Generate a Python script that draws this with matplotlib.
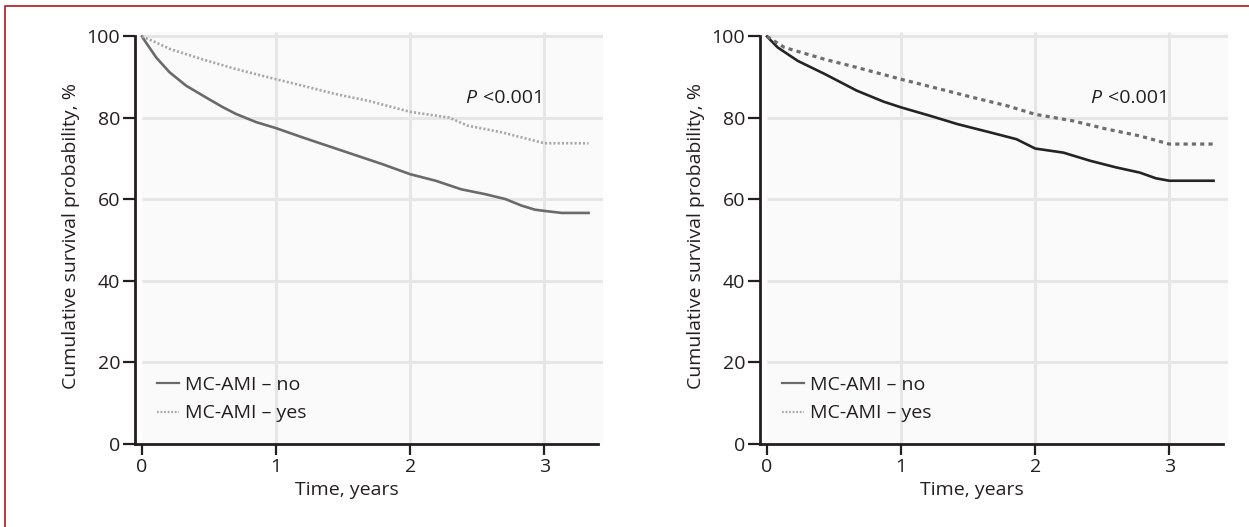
import matplotlib
matplotlib.use("Agg")
import matplotlib.pyplot as plt
import matplotlib.transforms as mtransforms
from matplotlib.lines import Line2D
from matplotlib.patches import Rectangle

plt.rcParams['font.family'] = ['Open Sans', 'DejaVu Sans']

# Kaplan-Meier survival (%) read at selected times (years)
left_no_t = [0, 0.03, 0.107, 0.206, 0.33, 0.50, 0.60, 0.70, 0.85, 1.0, 1.2, 1.49,
             1.79, 2.0, 2.19, 2.38, 2.56, 2.71, 2.83, 2.93, 3.0, 3.13, 3.33]
left_no_s = [100, 98.5, 94.8, 91.2, 87.9, 84.6, 82.7, 81.0, 79.0, 77.5, 75.2, 72.0,
             68.7, 66.2, 64.6, 62.5, 61.3, 60.1, 58.5, 57.5, 57.2, 56.7, 56.7]
left_yes_t = [0, 0.08, 0.21, 0.45, 0.70, 1.0, 1.2, 1.44, 1.69, 2.0, 2.29, 2.43,
              2.68, 2.93, 3.0, 3.33]
left_yes_s = [100, 98.9, 96.9, 94.4, 92.0, 89.5, 87.9, 85.9, 84.2, 81.5, 80.1, 78.1,
              76.5, 74.4, 73.8, 73.8]

right_no_t = [0, 0.08, 0.23, 0.43, 0.67, 0.87, 1.0, 1.22, 1.42, 1.66, 1.86, 2.0,
              2.21, 2.41, 2.6, 2.78, 2.90, 3.0, 3.33]
right_no_s = [100, 97.3, 94.0, 90.8, 86.7, 84.0, 82.6, 80.5, 78.5, 76.5, 74.8, 72.5,
              71.5, 69.5, 67.9, 66.6, 65.2, 64.6, 64.6]
right_yes_t = [0, 0.13, 0.43, 0.67, 1.0, 1.29, 1.54, 1.79, 2.0, 2.28, 2.53, 2.78,
               3.0, 3.33]
right_yes_s = [100, 97.3, 94.4, 92.4, 89.5, 87.1, 85.0, 83.0, 80.9, 79.3, 77.3, 75.6,
               73.6, 73.6]

labels = ['MC-AMI \u2013 no', 'MC-AMI \u2013 yes']
yticks = [0, 20, 40, 60, 80, 100]
xticks = [0, 1, 2, 3]
p_text = '<0.001'

ink = '#231f20'
fs = 14

fig = plt.figure(figsize=(12.49, 5.27), dpi=100)
W, H = 1249, 527
ax_left = fig.add_axes([135.3 / W, 83 / H, 468 / W, 411.6 / H])
ax_right = fig.add_axes([760.3 / W, 83 / H, 468 / W, 411.6 / H])

panels = [
    (ax_left, (left_no_t, left_no_s), (left_yes_t, left_yes_s),
     dict(color='#6a6a6a', lw=1.9), dict(color='#a8a8a8', lw=1.9, ls=(0, (0.8, 0.8))),
     ['#6a6a6a', '#a8a8a8']),
    (ax_right, (right_no_t, right_no_s), (right_yes_t, right_yes_s),
     dict(color='#262324', lw=1.9), dict(color='#6e6e6e', lw=2.3, ls=(0, (1.3, 1.3))),
     ['#6a6a6a', '#a8a8a8']),
]

for ax, no, yes, no_style, yes_style, leg_colors in panels:
    ax.set_xlim(-0.05, 3.44)
    ax.set_ylim(0, 101)
    ax.set_facecolor('white')

    # shaded plot region and grid
    ax.add_patch(Rectangle((0, 0), 3.44, 101, color='#fafafa', lw=0, zorder=0))
    ax.hlines(yticks[1:], 0, 3.44, color='#e6e6e6', lw=2.2, zorder=1)
    ax.vlines(xticks[1:], 0, 101, color='#e6e6e6', lw=2.2, zorder=1)

    ax.plot(no[0], no[1], zorder=3, solid_joinstyle='round', **no_style)
    ax.plot(yes[0], yes[1], zorder=3, **yes_style)

    for side in ['top', 'right']:
        ax.spines[side].set_visible(False)
    for side in ['left', 'bottom']:
        ax.spines[side].set_color(ink)
        ax.spines[side].set_linewidth(2.0)
    ax.spines['left'].set_bounds(0, 100)
    ax.spines['bottom'].set_bounds(-0.05, 3.4)

    ax.set_xticks(xticks)
    ax.set_yticks(yticks)
    ax.tick_params(axis='y', direction='out', length=9, width=1.6, color=ink,
                   labelsize=fs, labelcolor=ink, pad=2)
    ax.tick_params(axis='x', direction='out', length=8, width=1.6, color=ink,
                   labelsize=fs, labelcolor=ink, pad=2)

    ax.set_xlabel('Time, years', fontsize=fs, color=ink)
    ax.xaxis.set_label_coords(1.53, -0.09,
                              transform=mtransforms.blended_transform_factory(ax.transData, ax.transAxes))
    ax.xaxis.label.set_va('top')
    ax.set_ylabel('Cumulative survival probability, %', fontsize=fs, color=ink)
    ax.yaxis.set_label_coords(-0.119, 0.505)

    ax.text(2.41, 84.8, 'P', style='italic', fontsize=fs, color=ink, va='center', ha='left')
    ax.annotate(p_text, xy=(2.41, 84.8), xytext=(12.5, 0), textcoords='offset points',
                fontsize=fs, color=ink, va='center', ha='left')

    handles = [Line2D([], [], color=leg_colors[0], lw=1.6),
               Line2D([], [], color=leg_colors[1], lw=1.6, ls=(0, (0.8, 0.8)))]
    ax.legend(handles, labels, loc='upper left', bbox_to_anchor=(0.046, 0.166),
              frameon=False, fontsize=fs, handlelength=1.15, handletextpad=0.3,
              labelspacing=0.55, labelcolor=ink, borderaxespad=0, borderpad=0)

# red frame along the top and left edges
fig.add_artist(Line2D([5 / W, 5 / W, 1.0], [0.0, 1 - 5.5 / H, 1 - 5.5 / H],
                      transform=fig.transFigure, color='#b8282e', lw=1.3))

fig.savefig('out.png', dpi=100)
